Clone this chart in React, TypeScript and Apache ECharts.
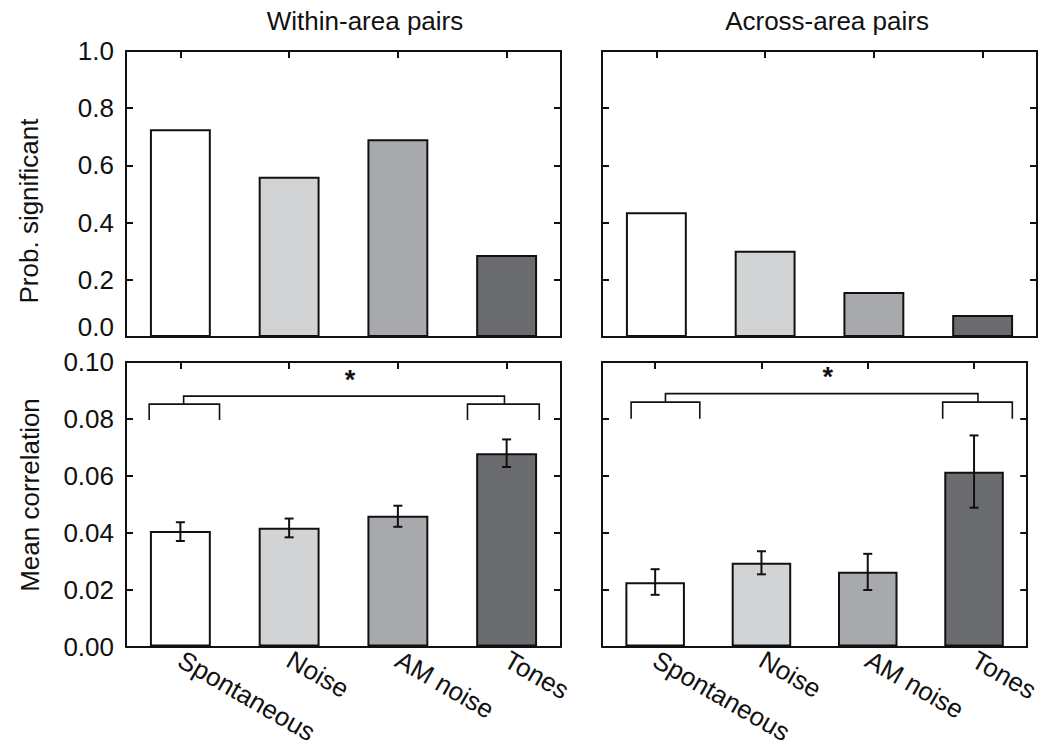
import React, { useEffect, useRef } from "react";
import * as echarts from "echarts";

const categories = ["Spontaneous", "Noise", "AM noise", "Tones"];
const barColors = ["#ffffff", "#d1d3d4", "#a7a9ac", "#6a6c6f"];

const probWithin = [0.726, 0.56, 0.691, 0.287];
const probAcross = [0.436, 0.302, 0.157, 0.077];

const corrWithin = [0.0406, 0.0418, 0.046, 0.0679];
const corrWithinLow = [0.0371, 0.0384, 0.0421, 0.0631];
const corrWithinHigh = [0.0437, 0.045, 0.0495, 0.0728];

const corrAcross = [0.0226, 0.0295, 0.0263, 0.0614];
const corrAcrossLow = [0.0182, 0.0254, 0.0199, 0.0488];
const corrAcrossHigh = [0.0272, 0.0335, 0.0326, 0.0742];

const probTicks = { min: 0, max: 1, interval: 0.2, digits: 1 };
const corrTicks = { min: 0, max: 0.1, interval: 0.02, digits: 2 };

// significance bracket: [groupA index, groupB index, topY, midY, bottomY]
const bracketWithin = [0, 3, 0.088, 0.0852, 0.0796];
const bracketAcross = [0, 3, 0.0889, 0.0859, 0.0801];

const FONT = "Liberation Sans";
const INK = "#111111";

const grids = [
  { left: 126, top: 51, width: 435, height: 286 },
  { left: 602, top: 51, width: 435, height: 286 },
  { left: 126, top: 362, width: 435, height: 285 },
  { left: 602, top: 362, width: 435, height: 285 },
];

// bracket geometry as fractions of category band (rendering layout)
const bracketLayout = [
  { a: [-0.287, 0.36, 0.03], b: [-0.36, 0.3, -0.02] },
  { a: [-0.226, 0.42, 0.097], b: [-0.295, 0.36, 0.037] },
];

export default function App() {
  const ref = useRef<HTMLDivElement>(null);
  useEffect(() => {
    if (!ref.current) return;
    const chart = echarts.init(ref.current, null, { renderer: "svg" });

    const xAxis: any[] = [];
    const yAxis: any[] = [];
    grids.forEach((g, i) => {
      const bottomRow = i >= 2;
      xAxis.push({
        type: "category",
        gridIndex: i,
        data: categories,
        position: "bottom",
        axisLine: { onZero: false, lineStyle: { color: INK, width: 2 } },
        axisTick: { show: false },
        axisLabel: bottomRow
          ? { show: true, rotate: -30, margin: 11, color: INK, fontSize: 26, fontFamily: FONT, interval: 0 }
          : { show: false },
      });
      xAxis.push({
        type: "category",
        gridIndex: i,
        data: categories,
        position: "top",
        axisLine: { onZero: false, lineStyle: { color: INK, width: 2 } },
        axisTick: { show: true, inside: true, alignWithLabel: true, length: 7, lineStyle: { color: INK, width: 2 } },
        axisLabel: { show: false },
      });
      const t = bottomRow ? corrTicks : probTicks;
      const leftCol = i % 2 === 0;
      yAxis.push({
        type: "value",
        gridIndex: i,
        min: t.min,
        max: t.max,
        interval: t.interval,
        position: "left",
        splitLine: { show: false },
        axisLine: { show: true, onZero: false, lineStyle: { color: INK, width: 2 } },
        axisTick: { show: true, inside: true, length: 7, lineStyle: { color: INK, width: 2 } },
        axisLabel: leftCol
          ? {
              show: true,
              margin: 12,
              color: INK,
              fontSize: 26,
              fontFamily: FONT,
              formatter: (v: number) =>
                !bottomRow && v === 0 ? "{lift|" + v.toFixed(t.digits) + "}" : v.toFixed(t.digits),
              rich: { lift: { fontSize: 26, fontFamily: FONT, color: INK, padding: [0, 0, 20, 0] } },
            }
          : { show: false },
      });
      yAxis.push({
        type: "value",
        gridIndex: i,
        min: t.min,
        max: t.max,
        interval: t.interval,
        position: "right",
        splitLine: { show: false },
        axisLine: { show: true, onZero: false, lineStyle: { color: INK, width: 2 } },
        axisTick: { show: true, inside: true, length: 7, lineStyle: { color: INK, width: 2 } },
        axisLabel: { show: false },
      });
    });

    const barSeries = (vals: number[], gi: number) => ({
      type: "bar",
      xAxisIndex: gi * 2,
      yAxisIndex: gi * 2,
      barWidth: "56%",
      data: vals.map((v, k) => ({
        value: v,
        itemStyle: { color: barColors[k], borderColor: INK, borderWidth: 2 },
      })),
      z: 2,
    });

    const errSeries = (lo: number[], hi: number[], gi: number) => ({
      type: "custom",
      xAxisIndex: gi * 2,
      yAxisIndex: gi * 2,
      z: 5,
      data: lo.map((l, k) => [k, l, hi[k]]),
      renderItem: (_p: any, api: any) => {
        const x = api.value(0);
        const a = api.coord([x, api.value(1)]);
        const b = api.coord([x, api.value(2)]);
        const cap = 4.5;
        const st = { stroke: INK, lineWidth: 2 };
        return {
          type: "group",
          children: [
            { type: "line", shape: { x1: a[0], y1: a[1], x2: b[0], y2: b[1] }, style: st },
            { type: "line", shape: { x1: a[0] - cap, y1: a[1], x2: a[0] + cap, y2: a[1] }, style: st },
            { type: "line", shape: { x1: b[0] - cap, y1: b[1], x2: b[0] + cap, y2: b[1] }, style: st },
          ],
        };
      },
    });

    const bracketSeries = (br: number[], gi: number, layout: any) => ({
      type: "custom",
      xAxisIndex: gi * 2,
      yAxisIndex: gi * 2,
      z: 6,
      data: [br],
      renderItem: (_p: any, api: any) => {
        const ia = api.value(0);
        const ib = api.value(1);
        const top = api.coord([ia, api.value(2)])[1];
        const mid = api.coord([ia, api.value(3)])[1];
        const bot = api.coord([ia, api.value(4)])[1];
        const band = api.size([1, 0])[0];
        const ca = api.coord([ia, 0])[0];
        const cb = api.coord([ib, 0])[0];
        const st = { stroke: INK, lineWidth: 1.6, fill: null };
        const bracket = (c: number, f: number[]) => {
          const x1 = c + f[0] * band;
          const x2 = c + f[1] * band;
          return {
            type: "polyline",
            shape: { points: [[x1, bot], [x1, mid], [x2, mid], [x2, bot]] },
            style: st,
          };
        };
        const sa = ca + layout.a[2] * band;
        const sb = cb + layout.b[2] * band;
        return {
          type: "group",
          children: [
            bracket(ca, layout.a),
            bracket(cb, layout.b),
            {
              type: "polyline",
              shape: { points: [[sa, mid], [sa, top], [sb, top], [sb, mid]] },
              style: st,
            },
            {
              type: "text",
              style: {
                text: "*",
                x: (sa + sb) / 2 + 6,
                y: top - 3,
                textAlign: "center",
                textVerticalAlign: "bottom",
                fontSize: 27,
                fontWeight: "bold",
                fontFamily: FONT,
                fill: INK,
              },
            },
          ],
        };
      },
    });

    const txt = (text: string, x: number, y: number, rot: number) => ({
      type: "text",
      x,
      y,
      rotation: rot,
      style: {
        text,
        fontSize: 26,
        fontFamily: FONT,
        fill: INK,
        textAlign: "center",
        textVerticalAlign: "middle",
      },
    });

    const option: any = {
      animation: false,
      backgroundColor: "#ffffff",
      grid: grids.map((g) => ({ ...g, containLabel: false })),
      xAxis,
      yAxis,
      graphic: [
        txt("Within-area pairs", 365, 21, 0),
        txt("Across-area pairs", 827, 21, 0),
        txt("Prob. significant", 29, 211, Math.PI / 2),
        txt("Mean correlation", 30, 495, Math.PI / 2),
      ],
      series: [
        barSeries(probWithin, 0),
        barSeries(probAcross, 1),
        barSeries(corrWithin, 2),
        barSeries(corrAcross, 3),
        errSeries(corrWithinLow, corrWithinHigh, 2),
        errSeries(corrAcrossLow, corrAcrossHigh, 3),
        bracketSeries(bracketWithin, 2, bracketLayout[0]),
        bracketSeries(bracketAcross, 3, bracketLayout[1]),
      ],
    };
    chart.setOption(option);
    return () => chart.dispose();
  }, []);

  return (
    <div
      ref={ref}
      style={{ position: "fixed", left: 0, top: 0, width: 1042, height: 747, background: "#fff" }}
    />
  );
}
